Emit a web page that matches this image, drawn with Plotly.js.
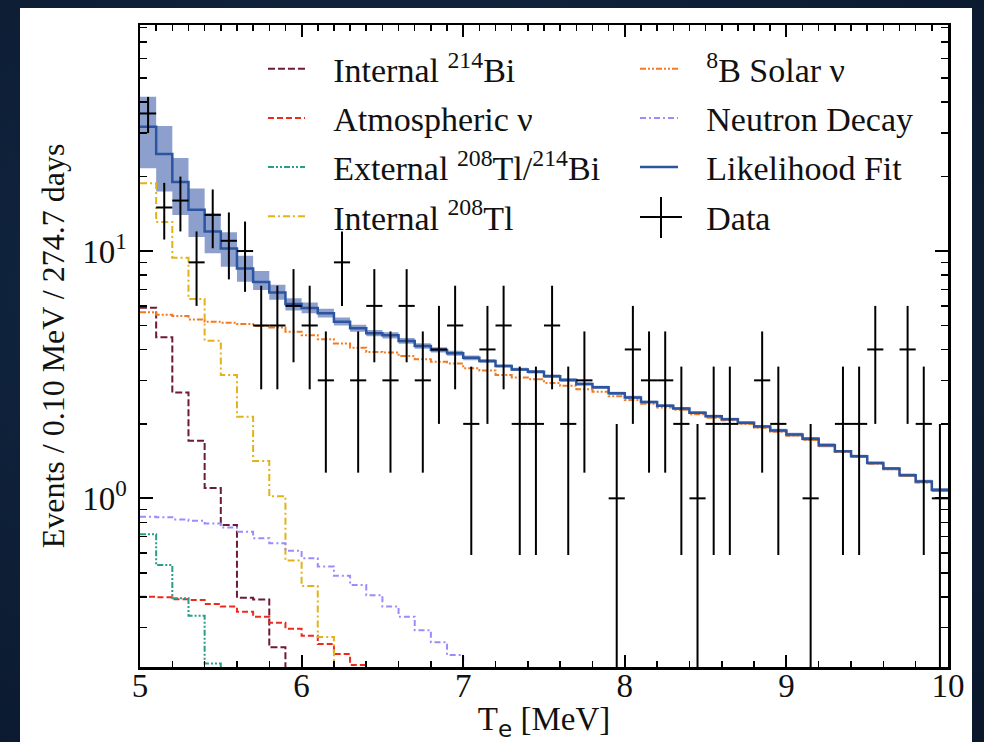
<!DOCTYPE html>
<html>
<head>
<meta charset="utf-8">
<script src="https://cdn.plot.ly/plotly-3.0.1.min.js"></script>
<style>
  html, body { margin:0; padding:0; width:984px; height:742px; overflow:hidden;
    background: radial-gradient(ellipse at 40% 40%, #17304f 0%, #0e2038 55%, #0a172b 100%); }
  #chart { position:absolute; left:20px; top:8px; width:952px; height:734px; background:#fff; }
</style>
</head>
<body>
<div id="chart"></div>
<script>
// ---- bins (0.10 MeV) ----
const binEdges = [5.0,5.1,5.2,5.3,5.4,5.5,5.6,5.7,5.8,5.9,6.0,6.1,6.2,6.3,6.4,6.5,6.6,6.7,6.8,6.9,
  7.0,7.1,7.2,7.3,7.4,7.5,7.6,7.7,7.8,7.9,8.0,8.1,8.2,8.3,8.4,8.5,8.6,8.7,8.8,8.9,
  9.0,9.1,9.2,9.3,9.4,9.5,9.6,9.7,9.8,9.9,10.0];
const binCenters = [5.05,5.15,5.25,5.35,5.45,5.55,5.65,5.75,5.85,5.95,6.05,6.15,6.25,6.35,6.45,6.55,6.65,6.75,6.85,6.95,
  7.05,7.15,7.25,7.35,7.45,7.55,7.65,7.75,7.85,7.95,8.05,8.15,8.25,8.35,8.45,8.55,8.65,8.75,8.85,8.95,
  9.05,9.15,9.25,9.35,9.45,9.55,9.65,9.75,9.85,9.95];

// ---- data (events per bin) ----
const dataCounts = [36,15,16,9,14,11,10,5,5,6, 5,3,9,3,6,3,6,3,4,5,
  2,4,5,2,2,5,2,3,null,1, 4,3,3,2,1,2,2,null,3,2,
  null,1,null,2,2,4,null,4,2,1];
const dataErr = [6.0,3.87,4.0,3.0,3.74,3.32,3.16,2.24,2.24,2.45, 2.24,1.73,3.0,1.73,2.45,1.73,2.45,1.73,2.0,2.24,
  1.41,2.0,2.24,1.41,1.41,2.24,1.41,1.73,null,1.0, 2.0,1.73,1.73,1.41,1.0,1.41,1.41,null,1.73,1.41,
  null,1.0,null,1.41,1.41,2.0,null,2.0,1.41,1.0];

// ---- likelihood fit and its uncertainty band ----
const fitTotal = [31.8,24.7,19.0,14.7,12.0,10.25,8.5,7.5,6.8,6.1, 5.88,5.6,5.18,4.87,4.65,4.56,4.33,4.13,3.98,3.86,
  3.70,3.59,3.43,3.32,3.25,3.12,3.01,2.90,2.81,2.66, 2.56,2.45,2.37,2.31,2.22,2.15,2.09,2.02,1.95,1.88,
  1.81,1.74,1.64,1.55,1.48,1.39,1.32,1.24,1.17,1.08];
const fitLow = [21.6,17.4,14.0,11.4,9.8,8.64,7.51,6.95,6.35,5.75, 5.6,5.38,5.0,4.72,4.52,4.43,4.22,4.03,3.89,3.77,
  3.62,3.53,3.38,3.27,3.20,3.07,2.96,2.86,2.77,2.62, 2.52,2.42,2.34,2.28,2.19,2.12,2.06,1.99,1.92,1.85,
  1.78,1.71,1.61,1.53,1.46,1.37,1.30,1.22,1.15,1.06];
const fitHigh = [42.1,32.0,23.8,17.9,14.2,11.9,9.57,8.3,7.3,6.45, 6.2,5.84,5.38,5.03,4.79,4.69,4.45,4.24,4.08,3.95,
  3.78,3.65,3.48,3.37,3.30,3.17,3.06,2.94,2.85,2.70, 2.60,2.48,2.40,2.34,2.25,2.18,2.12,2.05,1.98,1.91,
  1.84,1.77,1.67,1.57,1.50,1.41,1.34,1.26,1.19,1.10];

// ---- fit components ----
const internalBi214 = [5.9,4.48,2.68,1.71,1.10,0.78,0.396,0.39,0.25,0.15];
const atmosphericNu = [0.40,0.398,0.391,0.388,0.374,0.365,0.348,0.332,0.314,0.297,0.278,0.2575,0.2346,0.212,0.19];
const externalTlBi = [0.715,0.537,0.394,0.335,0.215,0.13];
const internalTl208 = [18.8,13.1,9.4,6.4,4.34,3.15,2.14,1.415,1.02,0.56,0.442,0.275,0.17];
const solarB8 = [5.65,5.53,5.46,5.29,5.18,5.13,5.07,4.98,4.91,4.72, 4.56,4.40,4.23,4.06,3.91,3.89,3.76,3.65,3.57,3.51,
  3.36,3.29,3.15,3.08,3.03,2.93,2.85,2.76,2.70,2.59, 2.50,2.41,2.33,2.28,2.19,2.12,2.07,2.00,1.93,1.86,
  1.79,1.72,1.63,1.54,1.47,1.38,1.31,1.23,1.16,1.07];
const neutronDecay = [0.843,0.838,0.822,0.812,0.792,0.763,0.733,0.689,0.658,0.614,0.572,0.530,0.486,0.446,0.406,0.365,0.332,0.293,0.262,0.2325,0.19];

const legendNames = ['Internal <sup>214</sup>Bi','Atmospheric ν','External <sup>208</sup>Tl/<sup>214</sup>Bi',
  'Internal <sup>208</sup>Tl','<sup>8</sup>B Solar ν','Neutron Decay','Likelihood Fit','Data'];
// gap between the legend sample line and its text
const gap = '<span style="font-size:31px">&nbsp;&nbsp;&nbsp;</span>';

// step-histogram helpers (edges + last value repeated, drawn with 'hv')
function stepX(vals){ return binEdges.slice(0, vals.length + 1); }
function stepY(vals){ return vals.concat([vals[vals.length - 1]]); }

function comp(vals, name, color, dash, legend, grp){
  return { x: stepX(vals), y: stepY(vals), type:'scatter', mode:'lines', name: gap + name,
    line:{shape:'hv', color: color, width:2, dash: dash}, legend: legend, legendgroup: grp,
    hoverinfo:'skip' };
}

const traces = [
  { x: stepX(fitLow), y: stepY(fitLow), type:'scatter', mode:'lines', showlegend:false,
    line:{shape:'hv', width:0, color:'rgba(0,0,0,0)'}, hoverinfo:'skip' },
  { x: stepX(fitHigh), y: stepY(fitHigh), type:'scatter', mode:'lines', showlegend:false, fill:'tonexty',
    fillcolor:'rgba(58,92,168,0.58)', line:{shape:'hv', width:0, color:'rgba(0,0,0,0)'}, hoverinfo:'skip' },
  comp(internalBi214, legendNames[0], '#6e1a3a', '7px,3px', 'legend', 'g1'),
  comp(atmosphericNu, legendNames[1], '#ee2a1e', '6px,3px', 'legend', 'g2'),
  comp(externalTlBi, legendNames[2], '#2a9d8a', '6px,2px,2px,2px,2px,2px', 'legend', 'g3'),
  comp(internalTl208, legendNames[3], '#e2b21a', '7px,3px,2px,3px', 'legend', 'g4'),
  comp(solarB8, legendNames[4], '#f47a22', '6px,2px,2px,2px,2px,2px', 'legend2', 'g5'),
  comp(neutronDecay, legendNames[5], '#9a8cff', '6px,3px,2px,3px', 'legend2', 'g6'),
  comp(fitTotal, legendNames[6], '#2b55a0', 'solid', 'legend2', 'g7'),
  { x: binCenters, y: dataCounts, type:'scatter', mode:'markers', name: gap + legendNames[7],
    marker:{size:1, color:'rgba(0,0,0,0)'}, legend:'legend2', legendgroup:'g8',
    error_y:{type:'data', array: dataErr, visible:true, color:'#000', thickness:2, width:0},
    error_x:{type:'constant', value:0.05, visible:true, color:'#000', thickness:2, width:0},
    hoverinfo:'skip' }
];
traces[8].line.width = 2.5;

const serif = 'Liberation Serif, Times New Roman, serif';
const yMinor = [0.3,0.4,0.5,0.6,0.7,0.8,0.9,2,3,4,5,6,7,8,9,20,30,40,50,60,70,80];

const layout = {
  width:952, height:734,
  margin:{l:120, r:24, t:17, b:75},
  paper_bgcolor:'#ffffff', plot_bgcolor:'#ffffff',
  showlegend:true,
  font:{family: serif, color:'#111', size:32},
  xaxis:{ range:[5,10], type:'linear', showgrid:false, zeroline:false,
    showline:true, linecolor:'#000', linewidth:2.5, mirror:false,
    ticks:'inside', ticklen:12, tickwidth:2, tickcolor:'#000',
    tickmode:'array', tickvals:[5,6,7,8,9,10], ticktext:['5','6','7','8','9','10'],
    tickfont:{family: serif, size:33, color:'#111'}, ticklabelstandoff:-12,
    minor:{ticks:'inside', ticklen:6, tickwidth:1.5, tickcolor:'#000', dtick:0.2, tick0:5},
    title:{text:'T<sub><span style="font-family:DejaVu Sans">e</span></sub> [MeV]', font:{family: serif, size:33, color:'#111'}, standoff:18},
    automargin:false },
  xaxis2:{ range:[5,10], overlaying:'x', side:'top', showgrid:false, zeroline:false,
    showline:true, linecolor:'#000', linewidth:2.5, showticklabels:false,
    ticks:'inside', ticklen:12, tickwidth:2, tickcolor:'#000',
    tickmode:'array', tickvals:[5,6,7,8,9,10],
    minor:{ticks:'inside', ticklen:6, tickwidth:1.5, tickcolor:'#000', dtick:0.1, tick0:5} },
  yaxis:{ type:'log', range:[-0.682, 1.914], showgrid:false, zeroline:false,
    showline:true, linecolor:'#000', linewidth:2.5, mirror:'ticks',
    ticks:'inside', ticklen:13, tickwidth:2, tickcolor:'#000',
    tickmode:'array', tickvals:[1,10], ticktext:['10<sup>0</sup>','10<sup>1</sup>'],
    tickfont:{family: serif, size:33, color:'#111'}, ticklabelstandoff:4,
    minor:{ticks:'inside', ticklen:7, tickwidth:1.5, tickcolor:'#000', tickmode:'array', tickvals: yMinor},
    title:{text:'Events / 0.10 MeV / 274.7 days', font:{family: serif, size:32, color:'#111'}, standoff:8},
    automargin:false },
  legend:{ x:0.1522, xanchor:'left', y:0.9765, yanchor:'top', bgcolor:'rgba(0,0,0,0)',
    font:{family: serif, size:34, color:'#111'}, itemwidth:37, tracegroupgap:2, traceorder:'grouped' },
  legend2:{ x:0.6126, xanchor:'left', y:0.9765, yanchor:'top', bgcolor:'rgba(0,0,0,0)',
    font:{family: serif, size:34, color:'#111'}, itemwidth:38, tracegroupgap:2, traceorder:'grouped' },
  shapes:[
    {type:'line', xref:'paper', yref:'paper', x0:0.6188, x1:0.6708, y0:0.7009, y1:0.7009, line:{color:'#000', width:2}},
    {type:'line', xref:'paper', yref:'paper', x0:0.6448, x1:0.6448, y0:0.6682, y1:0.7321, line:{color:'#000', width:2}}
  ]
};
// attach an (invisible) trace to the top axis so it is drawn
traces.push({x:[5,10], y:[1,1], xaxis:'x2', yaxis:'y', mode:'lines', line:{width:0, color:'rgba(0,0,0,0)'}, showlegend:false, hoverinfo:'skip'});

Plotly.newPlot('chart', traces, layout, {displayModeBar:false, staticPlot:true});
</script>
</body>
</html>
